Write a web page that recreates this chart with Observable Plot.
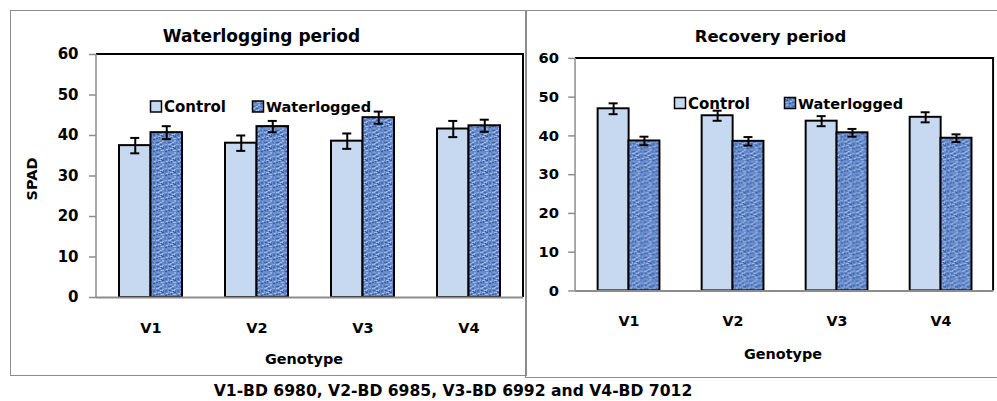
<!DOCTYPE html>
<html>
<head>
<meta charset="utf-8">
<script src="https://cdn.jsdelivr.net/npm/d3@7"></script>
<script src="https://cdn.jsdelivr.net/npm/@observablehq/plot@0.6"></script>
<style>
  html, body { margin: 0; padding: 0; background: #fff; }
  #root { position: relative; width: 997px; height: 401px; overflow: hidden; background: #fff; font-family: "DejaVu Sans", sans-serif; }
  .frame { position: absolute; box-sizing: border-box; border: 1.5px solid #8c8c8c; }
  .panel { position: absolute; top: 0; }
  .panel svg { overflow: visible; }
  #overlay { position: absolute; left: 0; top: 0; }
</style>
</head>
<body>
<div id="root">
  <div class="frame" style="left:10px;top:10px;width:517px;height:366px;"></div>
  <div class="frame" style="left:525px;top:10px;width:500px;height:368px;"></div>
  <div id="left" class="panel" style="left:0px;"></div>
  <div id="right" class="panel" style="left:526px;"></div>
</div>
<script>
// ---- data ----
const genotypes = ["V1", "V2", "V3", "V4"];
const seriesNames = ["Control", "Waterlogged"];
const yTicks = [0, 10, 20, 30, 40, 50, 60];

const wlControl    = [37.5, 38.1, 38.6, 41.6];
const wlControlErr = [1.9, 1.9, 1.9, 2.0];
const wlWater      = [40.7, 42.2, 44.4, 42.4];
const wlWaterErr   = [1.6, 1.4, 1.5, 1.5];

const rcControl    = [47.0, 45.2, 43.8, 44.8];
const rcControlErr = [1.4, 1.3, 1.3, 1.3];
const rcWater      = [38.7, 38.6, 40.8, 39.4];
const rcWaterErr   = [1.1, 1.1, 1.0, 1.0];

const panelTitles = ["Waterlogging period", "Recovery period"];
const xLabel = "Genotype";
const yLabel = "SPAD";
const caption = "V1-BD 6980, V2-BD 6985, V3-BD 6992 and V4-BD 7012";

// ---- styles ----
const FONT = "'DejaVu Sans', sans-serif";
const controlFill = "#c6d9f1";
const gray = "#8c8c8c";

// texture pattern defs (shared document-wide)
const defs = d3.select("#root").append("svg")
  .attr("width", 0).attr("height", 0)
  .style("position", "absolute");
const pat = defs.append("defs").append("pattern")
  .attr("id", "tex").attr("patternUnits", "userSpaceOnUse")
  .attr("width", 12).attr("height", 12);
pat.append("rect").attr("width", 12).attr("height", 12).attr("fill", "#6489c9");
const texCells = [
  [0,0,3,1,"#9db9e6"],[4,0,2,1,"#3f62a8"],[8,0,3,1,"#86a7dc"],[6,1,2,1,"#8fb0e2"],
  [1,2,2,1,"#3a5c9f"],[4,2,3,1,"#a6c0ea"],[9,2,2,2,"#4a6db0"],[0,3,1,2,"#87a8dc"],
  [2,4,3,1,"#9ab6e5"],[6,4,2,1,"#34579a"],[10,5,2,1,"#a2bde8"],[3,5,1,2,"#4467ab"],
  [0,6,2,1,"#3e61a5"],[5,6,3,1,"#9cb8e6"],[9,7,2,1,"#385a9d"],[1,8,3,1,"#7898d4"],
  [7,2,1,2,"#4b6fb2"],[5,3,1,1,"#2f5194"],[6,8,2,2,"#90afe1"],[0,10,3,1,"#4164a8"],
  [4,10,2,1,"#a4bfe9"],[8,10,3,1,"#5678bb"],[2,11,2,1,"#93b2e3"],[10,9,1,2,"#7a9bd5"]
];
texCells.forEach(([x,y,w,h,c]) => pat.append("rect").attr("x",x).attr("y",y).attr("width",w).attr("height",h).attr("fill",c));

// plot-area border: black top & right, gray left (axis line)
function plotBorder(index, scales, values, dims) {
  const {width, height, marginLeft, marginRight, marginTop, marginBottom} = dims;
  const x0 = marginLeft, x1 = width - marginRight, y0 = marginTop, y1 = height - marginBottom;
  const g = d3.create("svg:g");
  g.append("path").attr("d", `M${x0},${y0}H${x1}V${y1}`).attr("fill", "none").attr("stroke", "#000").attr("stroke-width", 2);
  g.append("path").attr("d", `M${x0},${y0}V${y1}`).attr("fill", "none").attr("stroke", gray).attr("stroke-width", 1.5);
  return g.node();
}

function panel(el, o) {
  const rows = genotypes.map((g, i) => ({g, c: o.c[i], ce: o.ce[i], w: o.w[i], we: o.we[i]}));
  const padInner = 0.41;
  const plotW = o.width - o.ml - o.mr;
  const step = plotW / genotypes.length;
  const bw = step * (1 - padInner);
  const half = bw / 2, q = bw / 4, capInset = (bw - 9) / 2;
  const errMarks = (key, ekey, dx) => [
    Plot.ruleX(rows, {x: "g", y1: d => d[key] - d[ekey], y2: d => d[key] + d[ekey], dx, stroke: "#000", strokeWidth: 2}),
    Plot.tickY(rows, {x: "g", y: d => d[key] - d[ekey], dx, insetLeft: capInset, insetRight: capInset, stroke: "#000", strokeWidth: 2}),
    Plot.tickY(rows, {x: "g", y: d => d[key] + d[ekey], dx, insetLeft: capInset, insetRight: capInset, stroke: "#000", strokeWidth: 2})
  ];
  const chart = Plot.plot({
    width: o.width, height: o.height,
    marginLeft: o.ml, marginRight: o.mr, marginTop: o.mt, marginBottom: o.mb,
    style: {background: "transparent", fontFamily: FONT, fontSize: "15px", fontWeight: "bold", color: "#000", overflow: "visible"},
    x: {domain: genotypes, paddingInner: padInner, paddingOuter: padInner / 2},
    y: {domain: [0, 60]},
    marks: [
      plotBorder,
      Plot.barY(rows, {x: "g", y: "c", fill: controlFill, stroke: "#000", strokeWidth: 2, insetRight: half}),
      Plot.barY(rows, {x: "g", y: "w", fill: "url(#tex)", stroke: "#000", strokeWidth: 2, insetLeft: half}),
      Plot.ruleY([0], {stroke: gray, strokeWidth: 2}),
      ...errMarks("c", "ce", -q),
      ...errMarks("w", "we", q),
      Plot.axisY({ticks: yTicks, tickSize: 7, tickPadding: o.ytp, stroke: gray, strokeWidth: 1.5, label: null, fill: "#000", fontSize: 15, fontWeight: "bold", fontFamily: FONT}),
      Plot.axisX({tickSize: 0, tickPadding: 25, label: null, fill: "#000", fontSize: 14.5, fontWeight: "bold", fontFamily: FONT})
    ]
  });
  document.getElementById(el).appendChild(chart);
}

panel("left",  {c: wlControl, ce: wlControlErr, w: wlWater, we: wlWaterErr, width: 530, height: 380, ml: 96, mr: 7, mt: 54, mb: 83, ytp: 11});
panel("right", {c: rcControl, ce: rcControlErr, w: rcWater, we: rcWaterErr, width: 480, height: 380, ml: 50, mr: 4, mt: 59, mb: 84, ytp: 10});

// ---- overlay text: titles, legends, axis titles, caption ----
const ov = d3.select("#root").append("svg").attr("id", "overlay")
  .attr("width", 997).attr("height", 401)
  .style("font-family", FONT).style("font-weight", "bold").style("pointer-events", "none");

ov.append("text").attr("x", 261.5).attr("y", 42).attr("text-anchor", "middle").attr("font-size", 17).text(panelTitles[0]);
ov.append("text").attr("x", 770.5).attr("y", 42).attr("text-anchor", "middle").attr("font-size", 16.5).text(panelTitles[1]);

ov.append("text").attr("transform", "translate(37,179) rotate(-90)").attr("text-anchor", "middle").attr("font-size", 14.5).text(yLabel);
ov.append("text").attr("x", 304).attr("y", 364).attr("text-anchor", "middle").attr("font-size", 14.4).text(xLabel);
ov.append("text").attr("x", 783).attr("y", 358.5).attr("text-anchor", "middle").attr("font-size", 14.4).text(xLabel);
ov.append("text").attr("x", 453).attr("y", 396).attr("text-anchor", "middle").attr("font-size", 15.6).text(caption);

function legend(x0, y0, x1) {
  const fills = [controlFill, "url(#tex)"];
  const sizes = [15, 14.5];
  [x0, x1].forEach((x, i) => {
    ov.append("rect").attr("x", x).attr("y", y0 - 11).attr("width", 11).attr("height", 11)
      .attr("fill", fills[i]).attr("stroke", "#000").attr("stroke-width", 1.5);
    ov.append("text").attr("x", x + 13.5).attr("y", y0).attr("font-size", sizes[i]).text(seriesNames[i]);
  });
}
legend(150.5, 112, 252.5);
legend(674.5, 108.5, 784.5);
</script>
</body>
</html>
